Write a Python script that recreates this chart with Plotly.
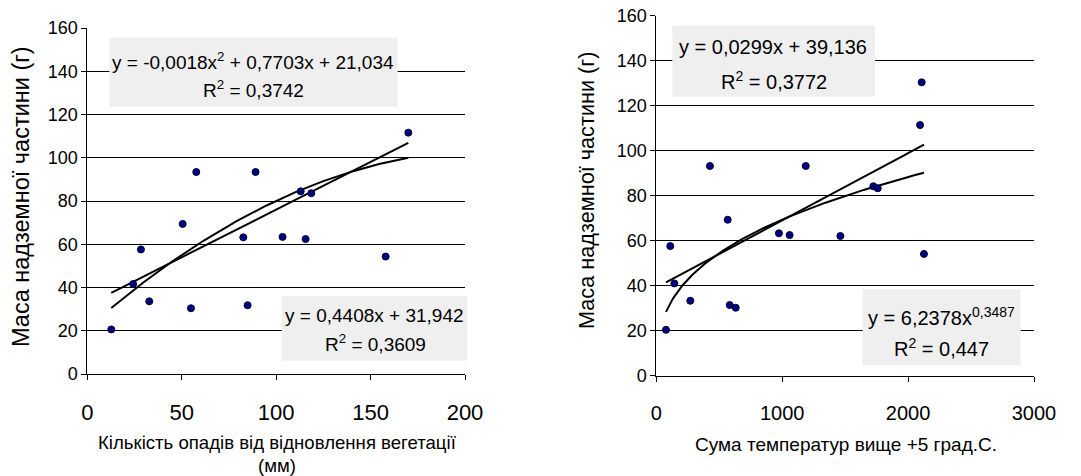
import numpy as np
import plotly.graph_objects as go

W, H = 1081, 476

# Precipitation since vegetation renewal (mm) vs above-ground mass (g)
rain_mm = [12.7, 24.3, 28.4, 32.8, 50.5, 54.9, 57.7, 82.6, 84.9, 89.1,
           103.4, 113.0, 115.6, 118.6, 158.0, 170.0]
rain_mass = [20.6, 41.6, 57.6, 33.6, 69.4, 30.4, 93.4, 63.2, 31.8, 93.4,
             63.4, 84.5, 62.4, 83.6, 54.3, 111.6]

# Sum of temperatures above +5 °C vs above-ground mass (g)
temp_sum = [77, 111, 143, 270, 426, 567, 583, 631, 974, 1059, 1187,
            1462, 1724, 1759, 2095, 2108, 2126]
temp_mass = [20.4, 57.6, 41.0, 33.3, 93.2, 69.3, 31.4, 30.2, 63.3, 62.5,
             93.2, 62.1, 84.2, 83.3, 111.4, 130.4, 54.1]

# Trendline coefficients as printed on the chart
rain_poly = (-0.0018, 0.7703, 21.034)
rain_lin = (0.4408, 31.942)
temp_lin = (0.0299, 39.136)
temp_pow = (6.2378, 0.3487)

FONT = "Arial, Liberation Sans, sans-serif"


def px(x):
    return x / W


def py(y):
    return 1 - y / H


fig = go.Figure()

# left panel
xs1 = np.linspace(min(rain_mm), max(rain_mm), 200)
fig.add_trace(go.Scatter(x=xs1, y=rain_poly[0] * xs1**2 + rain_poly[1] * xs1 + rain_poly[2],
                         mode="lines", line=dict(color="black", width=2),
                         xaxis="x", yaxis="y"))
fig.add_trace(go.Scatter(x=xs1, y=rain_lin[0] * xs1 + rain_lin[1],
                         mode="lines", line=dict(color="black", width=2),
                         xaxis="x", yaxis="y"))
fig.add_trace(go.Scatter(x=rain_mm, y=rain_mass, mode="markers",
                         marker=dict(color="#000080", size=7,
                                     line=dict(color="#000033", width=1)),
                         xaxis="x", yaxis="y"))

# right panel
xs2 = np.linspace(min(temp_sum), max(temp_sum), 200)
fig.add_trace(go.Scatter(x=xs2, y=temp_lin[0] * xs2 + temp_lin[1],
                         mode="lines", line=dict(color="black", width=2),
                         xaxis="x2", yaxis="y2"))
fig.add_trace(go.Scatter(x=xs2, y=temp_pow[0] * xs2**temp_pow[1],
                         mode="lines", line=dict(color="black", width=2),
                         xaxis="x2", yaxis="y2"))
fig.add_trace(go.Scatter(x=temp_sum, y=temp_mass, mode="markers",
                         marker=dict(color="#000080", size=7,
                                     line=dict(color="#000033", width=1)),
                         xaxis="x2", yaxis="y2"))

axis_common = dict(showline=True, linecolor="black", linewidth=1,
                   ticks="outside", ticklen=5, tickcolor="black",
                   zeroline=False, automargin=False)

fig.update_layout(
    width=W, height=H, margin=dict(l=0, r=0, t=0, b=0),
    paper_bgcolor="white", plot_bgcolor="white", showlegend=False,
    font=dict(family=FONT, color="black"),
    xaxis=dict(domain=[px(87.3), px(465)], range=[0, 200], dtick=50,
               showgrid=False, tickfont=dict(size=22), anchor="y",
               ticklabelstandoff=14, **axis_common),
    yaxis=dict(domain=[py(374), py(28)], range=[0, 160], dtick=20,
               showgrid=True, gridcolor="black", gridwidth=1,
               tickfont=dict(size=18), anchor="x", **axis_common),
    xaxis2=dict(domain=[px(656.3), px(1034)], range=[0, 3000], dtick=1000,
                showgrid=False, tickfont=dict(size=20), anchor="y2",
                ticklabelstandoff=14, **axis_common),
    yaxis2=dict(domain=[py(375.7), py(15.7)], range=[0, 160], dtick=20,
                showgrid=True, gridcolor="black", gridwidth=1,
                tickfont=dict(size=18), anchor="x2", **axis_common),
)

# equation boxes
boxes = [(109.3, 37.7, 397.7, 106.7), (281.7, 295.7, 467.3, 360.7),
         (672.3, 25.7, 875, 96.7), (862.7, 289.3, 1020.7, 365)]
for x0, y0, x1, y1 in boxes:
    fig.add_shape(type="rect", xref="paper", yref="paper",
                  x0=px(x0), x1=px(x1), y0=py(y1), y1=py(y0),
                  fillcolor="#efefef", line=dict(width=0), layer="above")

texts = [
    ("y = -0,0018x<sup>2</sup> + 0,7703x + 21,034", 252.5, 61, 19),
    ("R<sup>2</sup> = 0,3742", 253, 89, 19),
    ("y = 0,4408x + 31,942", 374, 315, 19),
    ("R<sup>2</sup> = 0,3609", 375, 343, 19),
    ("y = 0,0299x + 39,136", 772.5, 47, 20),
    ("R<sup>2</sup> = 0,3772", 774, 80, 20),
    ("y = 6,2378x<sup>0,3487</sup>", 941, 316, 20),
    ("R<sup>2</sup> = 0,447", 941.5, 347, 20),
]
for t, x, y, s in texts:
    fig.add_annotation(text=t, xref="paper", yref="paper", x=px(x), y=py(y),
                       xanchor="center", yanchor="middle", showarrow=False,
                       font=dict(size=s, family=FONT, color="black"))

# axis titles
fig.add_annotation(text="Маса надземної частини (г)", xref="paper", yref="paper",
                   x=px(21), y=py(197), textangle=-90, showarrow=False,
                   xanchor="center", yanchor="middle", font=dict(size=23.5))
fig.add_annotation(text="Маса надземної частини (г)", xref="paper", yref="paper",
                   x=px(586), y=py(191), textangle=-90, showarrow=False,
                   xanchor="center", yanchor="middle", font=dict(size=21.7))
fig.add_annotation(text="Кількість опадів від відновлення вегетації", xref="paper",
                   yref="paper", x=px(277), y=py(442), showarrow=False,
                   xanchor="center", yanchor="middle", font=dict(size=18.6))
fig.add_annotation(text="(мм)", xref="paper", yref="paper", x=px(277), y=py(465),
                   showarrow=False, xanchor="center", yanchor="middle",
                   font=dict(size=18.6))
fig.add_annotation(text="Сума температур вище +5 град.С.", xref="paper",
                   yref="paper", x=px(846), y=py(444), showarrow=False,
                   xanchor="center", yanchor="middle", font=dict(size=19))

fig.write_html("out.html")
